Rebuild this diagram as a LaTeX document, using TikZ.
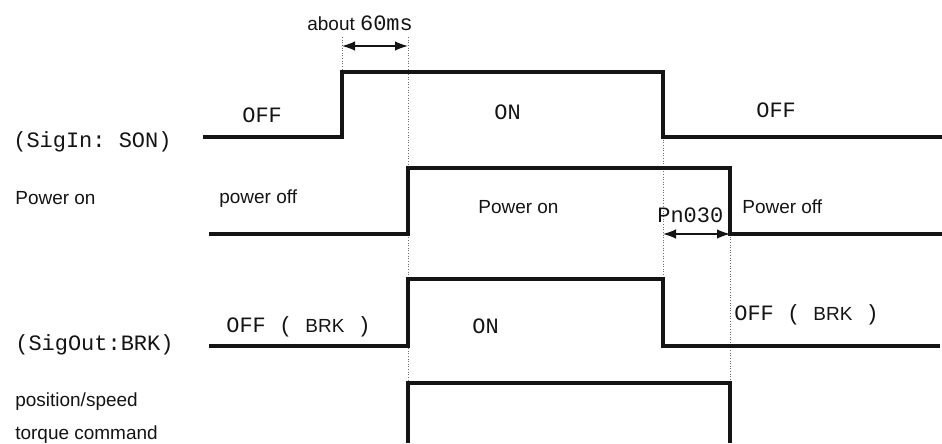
\documentclass[tikz,border=0pt]{standalone}
\usepackage{fontspec}
\setsansfont{Liberation Sans}
\setmonofont{Liberation Mono}
\usetikzlibrary{arrows.meta}
\definecolor{ink}{RGB}{20,20,20}
\definecolor{dotgray}{RGB}{110,110,110}
\newcommand\sigfont{\ttfamily\fontsize{12.5}{14}\selectfont}
\newcommand\lblfont{\sffamily\fontsize{10.8}{13}\selectfont}
\tikzset{
  >={Latex[length=2.6mm,width=1.9mm]},
  wave/.style={draw=ink,line width=1.8pt,line join=miter},
  guide/.style={draw=dotgray,densely dotted,line width=0.5pt},
  dim/.style={<->,draw=ink,line width=0.8pt},
  sig/.style={font=\sigfont,text=ink,anchor=base west,inner sep=0pt},
  lbl/.style={font=\lblfont,text=ink,anchor=base west,inner sep=0pt},
}
\begin{document}
\begin{tikzpicture}[x=0.02cm,y=-0.02cm]
  \useasboundingbox (0,0) rectangle (942,443);
  % time marks
  \draw[guide] (342,37) -- (342,72);
  \draw[guide] (408,37) -- (408,383);
  \draw[guide] (663,137) -- (663,279);
  \draw[guide] (730,234) -- (730,383);
  % waveforms
  \draw[wave] (203,137) -- (342,137) -- (342,72) -- (663,72) -- (663,137) -- (942,137);
  \draw[wave] (209,234) -- (408,234) -- (408,168) -- (730,168) -- (730,234) -- (942,234);
  \draw[wave] (209,346) -- (408,346) -- (408,279) -- (663,279) -- (663,346) -- (940,346);
  \draw[wave] (408,443) -- (408,383) -- (730,383) -- (730,443);
  % delays
  \coordinate (son on) at (342,46); \coordinate (pwr on) at (408,46);
  \draw[dim] (son on) -- (pwr on);
  \coordinate (son off) at (663,234); \coordinate (pwr off) at (730,234);
  \draw[dim] (son off) -- (pwr off);
  \node[lbl] (delay) at (307,30) {about {\sigfont 60ms}};
  \node[sig] (pn) at (657,222) {Pn030};
  % row labels
  \node[sig] (sigin) at (13,147) {(SigIn: SON)};
  \node[lbl] (power) at (15,204) {Power on};
  \node[sig] (sigout) at (15,350) {(SigOut:BRK)};
  \node[lbl] (cmd1) at (15,406) {position/speed};
  \node[lbl] (cmd2) at (15,439) {torque command};
  % states
  \node[sig] (son a) at (242,122) {OFF};
  \node[sig] (son b) at (494,119) {ON};
  \node[sig] (son c) at (756,117) {OFF};
  \node[lbl] (pwr a) at (219,203) {power off};
  \node[lbl] (pwr b) at (478,213) {Power on};
  \node[lbl] (pwr c) at (742,213) {Power off};
  \node[sig] (brk a) at (226,332) {OFF ( {\lblfont BRK} )};
  \node[sig] (brk b) at (472,333) {ON};
  \node[sig] (brk c) at (734,320) {OFF ( {\lblfont BRK} )};
\end{tikzpicture}
\end{document}
